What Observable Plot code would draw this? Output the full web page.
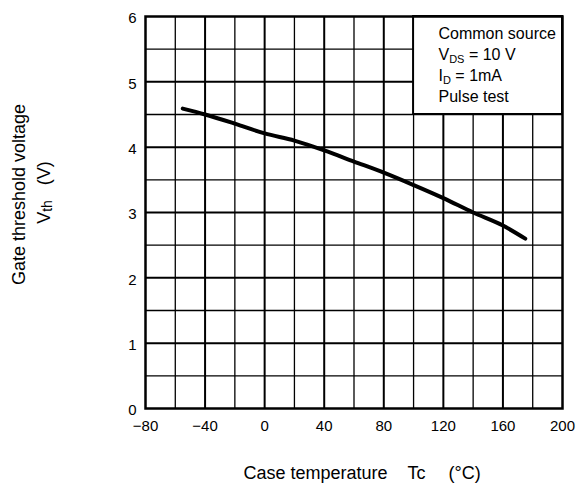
<!DOCTYPE html>
<html><head><meta charset="utf-8">
<script src="https://cdn.jsdelivr.net/npm/d3@7"></script>
<script src="https://cdn.jsdelivr.net/npm/@observablehq/plot@0.6"></script>
<style>
html,body{margin:0;padding:0;background:#fff;}
svg text{white-space:pre;}
</style></head><body><div id="chart"></div>
<script>
const temperature = [-55, -40, -20, 0, 20, 40, 60, 80, 100, 120, 140, 160, 175];
const vth = [4.59, 4.50, 4.36, 4.21, 4.10, 3.95, 3.78, 3.61, 3.42, 3.22, 3.00, 2.80, 2.60];
const xTicks = [-80, -40, 0, 40, 80, 120, 160, 200];
const yTicks = [0, 1, 2, 3, 4, 5, 6];
const xMajorGrid = [-40, 0, 40, 80, 120, 160];
const xMinorGrid = [-60, -20, 20, 60, 100, 140, 180];
const yMajorGrid = [1, 2, 3, 4, 5];
const yMinorGrid = [0.5, 1.5, 2.5, 3.5, 4.5, 5.5];
const legendLines = ["Common source", "VDS = 10 V", "ID = 1mA", "Pulse test"];
const xLabelParts = ["Case temperature", "Tc", "(°C)"];
const yLabel = ["Gate threshold voltage", "Vth   (V)"];
const legendBoxX = [100, 200];
const legendBoxY = [4.5, 6];

const curve = temperature.map((t, i) => ({t, v: vth[i]}));
const font = "'Liberation Sans', Arial, Helvetica, sans-serif";
const tickFs = 15;
const legendFs = 16;
const labelFs = 18;
const xLabelDx = [98, 262, 303];

const marks = [
  Plot.ruleX(xMinorGrid, {stroke: "#000", strokeWidth: 1.3}),
  Plot.ruleX(xMajorGrid, {stroke: "#000", strokeWidth: 2}),
  Plot.ruleY(yMinorGrid, {stroke: "#000", strokeWidth: 1.3}),
  Plot.ruleY(yMajorGrid, {stroke: "#000", strokeWidth: 2}),
  Plot.rect([{x1: legendBoxX[0], x2: legendBoxX[1], y1: legendBoxY[0], y2: legendBoxY[1]}],
    {x1: "x1", x2: "x2", y1: "y1", y2: "y2", fill: "#fff", stroke: "#000", strokeWidth: 2}),
  Plot.frame({stroke: "#000", strokeWidth: 2.5}),
  Plot.line(curve, {x: "t", y: "v", stroke: "#000", strokeWidth: 4, curve: "monotone-x"}),
  Plot.axisX({ticks: xTicks, tickSize: 0, tickPadding: 12, label: null, fontSize: tickFs}),
  Plot.axisY({ticks: yTicks, tickFormat: "d", tickSize: 0, tickPadding: 9, dy: 2, label: null, fontSize: tickFs}),
  ...legendLines.map((s, i) => Plot.text([s], {
    frameAnchor: "top-left", textAnchor: "start", lineAnchor: "bottom",
    dx: 293, dy: 22 + i * 21, fontSize: legendFs, fill: "#000"
  })),
  ...xLabelParts.map((s, i) => Plot.text([s], {
    frameAnchor: "bottom-left", textAnchor: "start", lineAnchor: "bottom",
    dx: xLabelDx[i], dy: 70, fontSize: labelFs, fill: "#000"
  })),
  Plot.text([yLabel[0]], {frameAnchor: "left", textAnchor: "middle", lineAnchor: "bottom",
    rotate: -90, dx: -121, dy: -18, fontSize: labelFs, fill: "#000"}),
  Plot.text([yLabel[1]], {frameAnchor: "left", textAnchor: "middle", lineAnchor: "bottom",
    rotate: -90, dx: -96, dy: -20, fontSize: labelFs, fill: "#000"})
];

const chart = Plot.plot({
  width: 582,
  height: 488,
  marginLeft: 145,
  marginRight: 20,
  marginTop: 16,
  marginBottom: 80,
  style: {fontFamily: font, fontSize: tickFs + "px", background: "#fff", color: "#000"},
  x: {domain: [-80, 200]},
  y: {domain: [0, 6]},
  marks
});
document.getElementById("chart").appendChild(chart);

// subscripts
d3.select(chart).selectAll("text").each(function() {
  const el = this;
  const t = el.textContent;
  if (t === "VDS = 10 V") {
    el.innerHTML = 'V<tspan font-size="11" dy="3">DS</tspan><tspan dy="-3"> = 10 V</tspan>';
  } else if (t === "ID = 1mA") {
    el.innerHTML = 'I<tspan font-size="11" dy="3">D</tspan><tspan dy="-3"> = 1mA</tspan>';
  } else if (t === "Vth   (V)") {
    el.innerHTML = 'V<tspan font-size="14" dy="2">th</tspan><tspan dy="-2">   (V)</tspan>';
  }
});
</script></body></html>
